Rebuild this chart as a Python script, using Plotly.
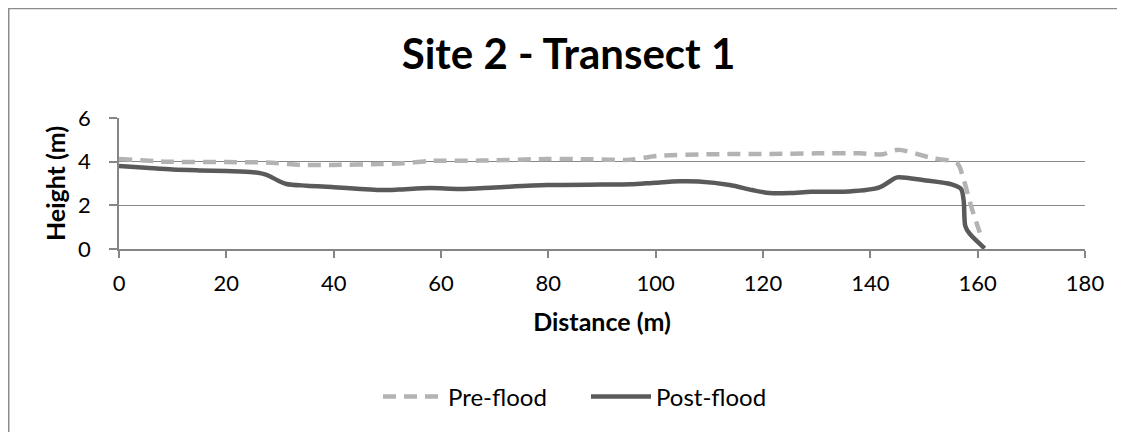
import plotly.graph_objects as go

# ---- data ----
pre_distance = [0, 9, 20, 27.5, 33.8, 40, 48.6, 53, 57.9, 67.3, 79.7, 88, 95.2, 100.2,
                110.7, 121.3, 130, 138, 142.3, 145, 151.6, 156.2, 157.3, 159, 160.4]
pre_height = [4.12, 4.00, 3.98, 3.96, 3.85, 3.85, 3.89, 3.93, 4.03, 4.05, 4.12, 4.11, 4.09, 4.26,
              4.34, 4.35, 4.38, 4.38, 4.34, 4.54, 4.16, 3.93, 3.25, 1.78, 0.75]

post_distance = [0, 5, 10, 15, 20, 25, 27.5, 29.5, 31.2, 35, 40, 45, 48.6, 52, 57.9, 63.6,
                 70, 79.8, 90, 95.2, 100, 104.5, 108, 113.8, 118, 121.2, 125, 129, 136,
                 141.7, 143.5, 145, 150, 155.3, 156.9, 157.4, 157.7, 158.5, 161.3]
post_height = [3.80, 3.72, 3.64, 3.60, 3.57, 3.52, 3.40, 3.15, 2.98, 2.90, 2.83, 2.75, 2.70, 2.72,
               2.79, 2.75, 2.82, 2.93, 2.95, 2.96, 3.04, 3.10, 3.09, 2.93, 2.70, 2.56, 2.56,
               2.62, 2.63, 2.82, 3.08, 3.28, 3.15, 2.95, 2.75, 2.20, 1.05, 0.70, 0.03]

x_ticks = [0, 20, 40, 60, 80, 100, 120, 140, 160, 180]
y_ticks = [0, 2, 4, 6]

FONT = "Lato"
GRID = "#868686"

fig = go.Figure()
fig.add_trace(go.Scatter(
    x=pre_distance, y=pre_height, name="Pre-flood", mode="lines",
    line=dict(color="#B3B3B3", width=4.5, dash="13px,8px", shape="spline", smoothing=0.8),
))
fig.add_trace(go.Scatter(
    x=post_distance, y=post_height, name="Post-flood", mode="lines",
    line=dict(color="#5A5A5A", width=4.5, shape="spline", smoothing=0.8),
))

# the page body adds an 8 px offset; figure coordinates = page coordinates - 8
OFF = 8
W, H = 1117, 424
L, T = 119 - OFF, 118 - OFF
R = W - (1085 - OFF)
B = H - (249 - OFF)
pw, ph = W - L - R, H - T - B

def px_x(p):  # page px -> paper x
    return (p - OFF - L) / pw

def px_y(p):  # page px -> paper y
    return (H - B - (p - OFF)) / ph

fig.update_layout(
    width=W, height=H,
    margin=dict(l=L, r=R, t=T, b=B, pad=0),
    paper_bgcolor="white", plot_bgcolor="white",
    font=dict(family=FONT, size=22, color="black"),
    title=dict(text="<b>Site 2 - Transect 1</b>", x=(568.5 - OFF) / W, xanchor="center",
               xref="container", y=1 - (54 - OFF) / H, yanchor="middle", yref="container",
               font=dict(family=FONT, size=42, color="black")),
    showlegend=True,
    legend=dict(orientation="h", x=px_x(378), xanchor="left",
                y=px_y(397), yanchor="middle",
                font=dict(family=FONT, size=24, color="black"),
                itemwidth=60, entrywidth=133, entrywidthmode="pixels",
                bgcolor="rgba(0,0,0,0)"),
    shapes=[
        dict(type="line", xref="paper", yref="paper",
             x0=px_x(8.5), x1=px_x(8.5), y0=px_y(445), y1=px_y(6),
             line=dict(color="#8C8C8C", width=2)),
        dict(type="line", xref="paper", yref="paper",
             x0=px_x(8), x1=px_x(1135), y0=px_y(8.5), y1=px_y(8.5),
             line=dict(color="#8C8C8C", width=1.5)),
    ],
)

fig.update_xaxes(
    range=[0, 180], tickvals=x_ticks, ticktext=[str(v) for v in x_ticks],
    showgrid=False, zeroline=False, showline=True, linecolor=GRID, linewidth=1.5,
    ticks="outside", ticklen=7, tickwidth=1.5, tickcolor=GRID,
    ticklabelstandoff=7,
    tickfont=dict(family=FONT, size=22, color="black"),
    title=dict(text="<b>Distance (m)</b>", standoff=18,
               font=dict(family=FONT, size=25, color="black")),
)
fig.update_yaxes(
    range=[0, 6], tickvals=y_ticks, ticktext=[str(v) for v in y_ticks],
    showgrid=True, gridcolor=GRID, gridwidth=1.2,
    zeroline=False, showline=True, linecolor=GRID, linewidth=1.5,
    ticks="outside", ticklen=8, tickwidth=1.5, tickcolor=GRID,
    ticklabelstandoff=14,
    tickfont=dict(family=FONT, size=22, color="black"),
    title=dict(text="<b>Height (m)</b>", standoff=5,
               font=dict(family=FONT, size=25, color="black")),
)

fig.write_html("out.html")
